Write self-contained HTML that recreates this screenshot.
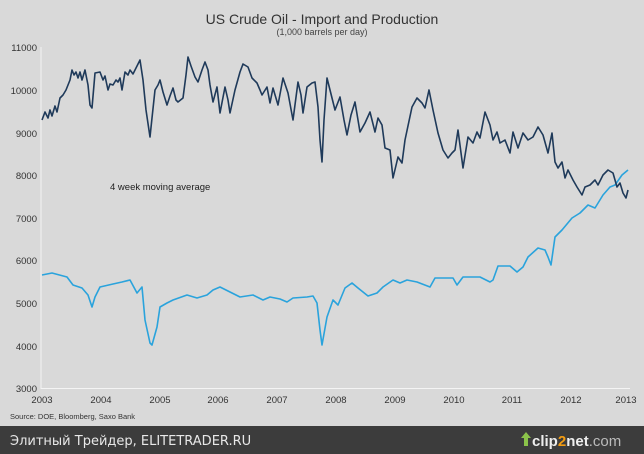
<!DOCTYPE html>
<html><head><meta charset="utf-8"><style>
body{margin:0;width:644px;height:454px;overflow:hidden;background:#d9d9d9;font-family:"Liberation Sans","DejaVu Sans",sans-serif}
</style></head><body>
<svg width="644" height="454" xmlns="http://www.w3.org/2000/svg" style="display:block">
<rect width="644" height="454" fill="#d9d9d9"/>
<text x="322" y="24" font-size="14" text-anchor="middle" fill="#333">US Crude Oil - Import and Production</text>
<text x="322" y="35" font-size="9" text-anchor="middle" fill="#444">(1,000 barrels per day)</text>
<g font-size="9.5" fill="#333" text-anchor="end">
<text x="37" y="51">11000</text><text x="37" y="94">10000</text><text x="37" y="137">9000</text>
<text x="37" y="179">8000</text><text x="37" y="222">7000</text><text x="37" y="264">6000</text>
<text x="37" y="307">5000</text><text x="37" y="350">4000</text><text x="37" y="392">3000</text>
</g>
<line x1="41" y1="47" x2="41" y2="389" stroke="#f4f4f4" stroke-width="1"/>
<line x1="41" y1="388.5" x2="630" y2="388.5" stroke="#f4f4f4" stroke-width="1"/>
<g font-size="9.5" fill="#333" text-anchor="middle">
<text x="42" y="403">2003</text><text x="101" y="403">2004</text><text x="160" y="403">2005</text>
<text x="218" y="403">2006</text><text x="277" y="403">2007</text><text x="336" y="403">2008</text>
<text x="395" y="403">2009</text><text x="454" y="403">2010</text><text x="512" y="403">2011</text>
<text x="571" y="403">2012</text><text x="626" y="403">2013</text>
</g>
<text x="10" y="419" font-size="7.5" fill="#333">Source: DOE, Bloomberg, Saxo Bank</text>
<text x="110" y="190" font-size="9.5" fill="#222">4 week moving average</text>
<polyline fill="none" stroke="#2aa3dc" stroke-width="1.6" stroke-linejoin="round" points="42,275 52,273 67,277 73,285 82,288 88,295 92,307 95,297 100,287 113,284 122,282 130,280 137,293 142,287 145,320 150,343 152,345 157,327 160,307 167,303 173,300 187,295 197,298 207,295 213,290 220,287 230,292 240,297 253,295 263,300 270,297 280,299 287,302 293,298 307,297 313,296 317,303 320,330 322,345 327,317 333,300 338,305 345,288 352,283 358,288 368,296 377,293 383,287 393,280 400,283 407,280 417,282 430,287 435,278 453,278 457,285 463,277 480,277 490,282 493,280 498,266 510,266 517,272 523,267 528,257 538,248 545,250 548,257 551,265 555,237 562,230 572,218 580,213 588,205 595,208 603,195 610,187 615,185 622,175 628,170"/>
<polyline fill="none" stroke="#1f3a5a" stroke-width="1.6" stroke-linejoin="round" points="42,120 45,112 48,118 50,110 52,116 55,106 57,112 60,98 63,95 66,90 70,80 72,70 74,75 76,72 78,78 80,72 82,80 85,70 88,85 90,105 92,108 95,73 100,72 103,80 105,76 108,90 110,84 113,85 116,80 118,82 120,78 122,90 125,72 128,75 130,70 133,74 135,70 138,64 140,60 143,80 146,110 150,137 152,118 155,90 158,85 160,80 163,92 167,105 170,96 173,88 176,100 178,102 183,98 186,75 188,57 191,66 195,77 198,82 202,70 205,62 208,70 210,85 213,102 217,87 220,113 225,87 228,100 230,113 235,90 240,72 243,64 248,67 252,78 257,83 260,90 262,95 267,87 270,103 273,88 278,105 283,78 288,93 293,120 298,82 301,95 303,113 307,87 312,83 315,82 318,107 320,140 322,162 324,120 327,78 330,90 335,110 340,97 344,120 347,135 351,115 355,102 360,132 365,123 370,112 375,132 378,118 382,125 385,148 390,150 393,178 398,157 402,163 405,140 412,107 417,98 422,103 425,108 429,90 433,110 438,133 443,150 448,158 452,153 455,150 458,130 463,168 468,137 473,143 477,132 480,138 485,112 490,125 493,140 497,132 500,143 505,140 510,153 513,132 518,148 523,133 528,140 533,137 538,127 543,135 548,153 552,133 555,162 558,168 562,162 565,178 568,170 573,180 577,187 582,195 585,187 590,185 595,180 598,185 603,175 608,170 613,173 617,187 620,183 623,193 626,198 628,190"/>
<rect x="0" y="426" width="644" height="28" fill="#3c3c3c"/>
<text x="10" y="445" font-size="13" fill="#e8e8e8" font-family="'DejaVu Sans',sans-serif">Элитный Трейдер, ELITETRADER.RU</text>
<text x="532" y="446" font-size="15" fill="#eee" font-weight="bold">clip<tspan fill="#f39c12">2</tspan>net<tspan fill="#bbb" font-weight="normal">.com</tspan></text>
<polygon points="521,438 526,432 531,438 528,438 528,446 524,446 524,438" fill="#8bc34a"/>
</svg>
</body></html>
